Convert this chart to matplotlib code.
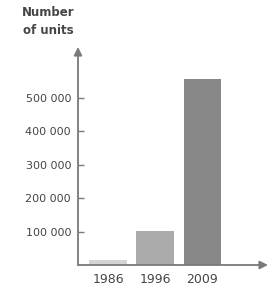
import numpy as np
import matplotlib.pyplot as plt

# data
years = ['1986', '1996', '2009']
units = [15000, 102000, 555000]
bar_colors = ['#d4d4d4', '#ababab', '#878787']
tick_vals = [100000, 200000, 300000, 400000, 500000]
tick_labels = ['100 000', '200 000', '300 000', '400 000', '500 000']

axis_col = '#7a7a7a'
text_col = '#454545'

fig = plt.figure(figsize=(2.68, 2.96), dpi=100)
ax = fig.add_axes([78 / 268, 1 - 265 / 296, 190 / 268, 218 / 296])

x = np.arange(len(years))
ax.bar(x, units, width=0.79, color=bar_colors, zorder=2)

ax.set_xlim(-0.638, 3.40)
ax.set_ylim(0, 652000)

for s in ax.spines.values():
    s.set_visible(False)

# axes with arrow heads
ax.annotate('', xy=(0, 1), xytext=(0, 0), xycoords='axes fraction',
            arrowprops=dict(arrowstyle='-|>', color=axis_col, lw=1.3,
                            mutation_scale=12, shrinkA=0, shrinkB=0))
ax.annotate('', xy=(1, 0), xytext=(0, 0), xycoords='axes fraction',
            arrowprops=dict(arrowstyle='-|>', color=axis_col, lw=1.3,
                            mutation_scale=12, shrinkA=0, shrinkB=0))

ax.set_yticks(tick_vals)
ax.set_yticklabels(tick_labels)
ax.tick_params(axis='y', direction='in', length=4, width=1, color=axis_col,
               pad=5, labelsize=8, labelcolor=text_col)
ax.set_xticks(x)
ax.set_xticklabels(years)
ax.tick_params(axis='x', length=0, pad=6, labelsize=9, labelcolor=text_col)

fig.text(48 / 268, 1 - 12 / 296, 'Number', ha='center', va='center',
         fontsize=8.5, fontweight='bold', color=text_col)
fig.text(48 / 268, 1 - 30 / 296, 'of units', ha='center', va='center',
         fontsize=8.5, fontweight='bold', color=text_col)

fig.savefig('out.png', dpi=100)
